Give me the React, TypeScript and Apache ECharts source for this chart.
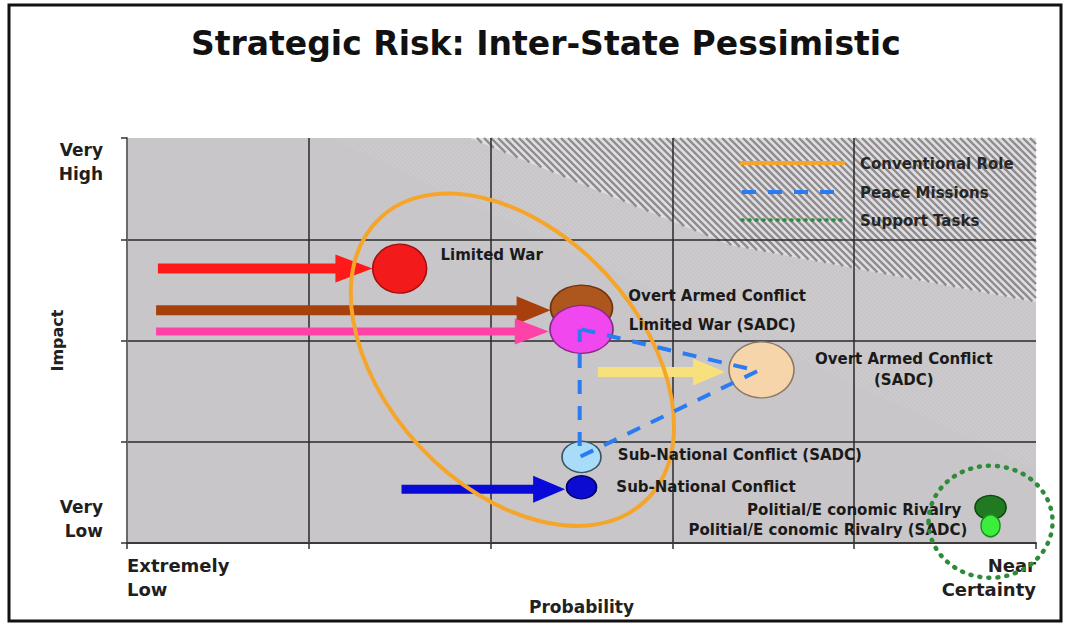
import React, { useEffect, useRef } from "react";
import * as echarts from "echarts";

// ---------- data ----------
const probabilityTicks = ["Extremely\nLow", "", "", "", "", "Near\nCertainty"];
const impactTicks = ["Very\nLow", "", "", "", "Very\nHigh"];

const riskNames = [
  "Limited War",
  "Overt Armed Conflict",
  "Limited War (SADC)",
  "Overt Armed Conflict (SADC)",
  "Sub-National Conflict (SADC)",
  "Sub-National Conflict",
  "Politial/E conomic Rivalry",
  "Politial/E conomic Rivalry (SADC)",
];
const riskLabels = [
  "Limited War",
  "Overt Armed Conflict",
  "Limited War (SADC)",
  "Overt Armed Conflict\n(SADC)",
  "Sub-National Conflict (SADC)",
  "Sub-National Conflict",
  "Politial/E conomic Rivalry",
  "Politial/E conomic Rivalry (SADC)",
];
const riskProbability = [1.5, 2.5, 2.5, 3.49, 2.5, 2.5, 4.75, 4.75];
const riskImpact = [2.71, 2.32, 2.11, 1.71, 0.85, 0.55, 0.35, 0.17];

const arrowFromProbability = [0.17, 0.16, 0.16, 2.59, 1.51];
const arrowToProbability = [1.35, 2.33, 2.32, 3.29, 2.41];
const arrowImpact = [2.71, 2.3, 2.09, 1.69, 0.53];

const peaceProbability = [2.5, 3.47, 2.49, 2.49];
const peaceImpact = [2.11, 1.7, 0.85, 2.11];

const conventionalCenter = [2.12, 1.81];
const supportCenter = [4.75, 0.21];

const legendNames = ["Conventional Role", "Peace Missions", "Support Tasks"];

// ---------- styles ----------
const FONT = "DejaVu Sans";
const bubbleSizes = [
  [54, 49],
  [62, 46],
  [63, 48],
  [65, 56],
  [39, 31],
  [30, 23],
  [31, 24],
  [19, 22],
];
const bubbleColors = ["#f21a1a", "#ad561e", "#f048ee", "#f7d5ab", "#a8dcf8", "#0b0bd2", "#1f7a22", "#3cee3c"];
const bubbleBorders = ["#a01010", "#6e3310", "#8a2a8a", "#8c7a68", "#3a5566", "#00006a", "#0f4a12", "#1f8a1f"];
const labelPos = ["right", "right", "right", "right", "right", "right", "left", "left"];
const labelDist = [13, 15, 15, 109, 16, 19, 13, 13];
const labelOffset = [
  [0, -14],
  [0, -12],
  [0, -4],
  [0, 0],
  [0, -2],
  [0, 0],
  [0, 2],
  [0, 4],
];
const labelAlign = ["left", "left", "left", "center", "left", "left", "right", "right"];

const arrowColors = ["#ff1a1a", "#a8400e", "#ff42a8", "#f8e07c", "#0a0ad8"];
const arrowShaft = [10, 10, 8, 10, 9];
const arrowHeadLen = [37, 34, 34, 32, 32];
const arrowHeadWid = [28, 28, 26, 27, 27];

const PLOT_L = 127;
const PLOT_R = 1036;
const PLOT_T = 138;
const PLOT_B = 543;

// lower boundary of a hatched zone (pixels), left to right, starting at the top edge
const denseEdge = [
  [470, PLOT_T],
  [730, 245],
  [PLOT_R, 302],
];
const faintEdge = [
  [330, PLOT_T],
  [PLOT_R, 470],
];

function hatchLines(edge: number[][], spacing: number, color: string, width: number, z: number) {
  const els: any[] = [];
  const x0min = edge[0][0];
  for (let x0 = x0min + spacing; x0 <= PLOT_R; x0 += spacing) {
    const xs = x0;
    const ys = PLOT_T;
    let xe = PLOT_R;
    for (let k = 0; k < edge.length - 1; k++) {
      const [ax, ay] = edge[k];
      const [bx, by] = edge[k + 1];
      const m = (by - ay) / (bx - ax);
      const xi = (ay - m * ax - PLOT_T + x0) / (1 - m);
      if (xi >= ax - 0.01 && xi <= bx + 0.01) {
        xe = Math.min(xi, PLOT_R);
        break;
      }
    }
    if (xe <= xs) continue;
    els.push({
      type: "line",
      silent: true,
      z,
      shape: { x1: xs, y1: ys, x2: xe, y2: ys + (xe - xs) },
      style: { stroke: color, lineWidth: width },
    });
  }
  return els;
}

export default function App() {
  const ref = useRef<HTMLDivElement>(null);

  useEffect(() => {
    if (!ref.current) return;
    const chart = echarts.init(ref.current, undefined, { renderer: "svg" });

    const bubbleData = riskNames.map((name, i) => ({
      name,
      value: [riskProbability[i], riskImpact[i]],
      symbolSize: bubbleSizes[i],
      itemStyle: { color: bubbleColors[i], borderColor: bubbleBorders[i], borderWidth: 1.5, opacity: 1 },
      label: {
        show: true,
        formatter: riskLabels[i],
        position: labelPos[i],
        distance: labelDist[i],
        offset: labelOffset[i],
        align: labelAlign[i],
        fontFamily: FONT,
        fontWeight: "bold",
        fontSize: 15,
        lineHeight: 21,
        color: "#1a1a1a",
        opacity: 1,
      },
    }));

    const legendY = [163, 192, 220];
    const legendGraphics: any[] = [
      {
        type: "line",
        z: 20,
        shape: { x1: 740, y1: legendY[0], x2: 845, y2: legendY[0] },
        style: { stroke: "#f5a52a", lineWidth: 4 },
      },
      {
        type: "line",
        z: 20,
        shape: { x1: 742, y1: legendY[1], x2: 845, y2: legendY[1] },
        style: { stroke: "#2a7cf0", lineWidth: 4, lineDash: [14, 12] },
      },
      {
        type: "line",
        z: 20,
        shape: { x1: 742, y1: legendY[2], x2: 845, y2: legendY[2] },
        style: { stroke: "#2e8b3a", lineWidth: 3.5, lineDash: [1, 6], lineCap: "round" },
      },
      ...legendNames.map((t, i) => ({
        type: "text",
        z: 20,
        x: 860,
        y: legendY[i] + 1,
        style: {
          text: t,
          fill: "#262626",
          font: `bold 15px "${FONT}"`,
          verticalAlign: "middle",
          align: "left",
        },
      })),
    ];

    const option: any = {
      animation: false,
      backgroundColor: "#ffffff",
      title: {
        text: "Strategic Risk: Inter-State Pessimistic",
        left: 186,
        top: 22,
        textStyle: { fontFamily: FONT, fontWeight: "bold", fontSize: 33, color: "#111111" },
      },
      grid: {
        left: PLOT_L,
        right: 1066 - PLOT_R,
        top: PLOT_T,
        bottom: 626 - PLOT_B,
        show: true,
        backgroundColor: "#c9c6c9",
        borderWidth: 0,
        outerBoundsMode: "none",
      },
      xAxis: {
        type: "value",
        min: 0,
        max: 5,
        interval: 1,
        z: 1,
        name: "Probability",
        nameLocation: "middle",
        nameGap: 55,
        nameMoveOverlap: false,
        nameTextStyle: { fontFamily: FONT, fontWeight: "bold", fontSize: 17, color: "#222" },
        axisLine: { show: true, lineStyle: { color: "#3a3a3a", width: 2 } },
        axisTick: { show: true, length: 6, lineStyle: { color: "#333", width: 1.5 } },
        splitLine: { show: true, showMaxLine: false, lineStyle: { color: "#2a2a2a", width: 1.5 } },
        axisLabel: {
          formatter: (v: number) => probabilityTicks[Math.round(v)] ?? "",
          fontFamily: FONT,
          fontWeight: "bold",
          fontSize: 18,
          lineHeight: 24,
          color: "#1f1f1f",
          margin: 10,
          alignMinLabel: "left",
          alignMaxLabel: "right",
          showMinLabel: true,
          showMaxLabel: true,
          hideOverlap: false,
        },
      },
      yAxis: {
        type: "value",
        min: 0,
        max: 4,
        interval: 1,
        z: 1,
        name: "Impact",
        nameLocation: "middle",
        nameGap: 62,
        nameMoveOverlap: false,
        nameTextStyle: { fontFamily: FONT, fontWeight: "bold", fontSize: 16, color: "#222" },
        axisLine: { show: true, lineStyle: { color: "#6a6a6a", width: 2 } },
        axisTick: { show: true, length: 6, lineStyle: { color: "#333", width: 1.5 } },
        splitLine: { show: true, showMaxLine: false, lineStyle: { color: "#2a2a2a", width: 1.5 } },
        axisLabel: {
          formatter: (v: number) => impactTicks[Math.round(v)] ?? "",
          fontFamily: FONT,
          fontWeight: "bold",
          fontSize: 17,
          lineHeight: 24,
          color: "#1f1f1f",
          margin: 24,
          verticalAlignMinLabel: "bottom",
          verticalAlignMaxLabel: "top",
          showMinLabel: true,
          showMaxLabel: true,
          hideOverlap: false,
        },
      },
      graphic: [
        ...hatchLines(faintEdge, 4, "rgba(235,235,235,0.16)", 1, 0.3),
        {
          type: "polygon",
          z: 0.4,
          silent: true,
          shape: { points: [...denseEdge.map((p) => [p[0], p[1]]), [PLOT_R, PLOT_T]] },
          style: { fill: "#e0dee0" },
        },
        ...hatchLines(denseEdge, 7, "#8e8c8e", 2.4, 0.5),
        ...legendGraphics,
        {
          type: "rect",
          z: 30,
          silent: true,
          shape: { x: 9, y: 5, width: 1052, height: 616 },
          style: { fill: "none", stroke: "#111", lineWidth: 3 },
        },
      ],
      series: [
        {
          type: "custom",
          name: "Risk Shift",
          silent: true,
          z: 2,
          data: arrowImpact.map((y, i) => [arrowFromProbability[i], y, arrowToProbability[i], y]),
          encode: { x: [0, 2], y: [1, 3] },
          renderItem: (params: any, api: any) => {
            const i = params.dataIndex;
            const p1 = api.coord([api.value(0), api.value(1)]);
            const p2 = api.coord([api.value(2), api.value(3)]);
            const dx = p2[0] - p1[0];
            const dy = p2[1] - p1[1];
            const len = Math.hypot(dx, dy) || 1;
            const ux = dx / len;
            const uy = dy / len;
            const nx = -uy;
            const ny = ux;
            const hl = arrowHeadLen[i];
            const hw = arrowHeadWid[i] / 2;
            const sw = arrowShaft[i] / 2;
            const bx = p2[0] - ux * hl;
            const by = p2[1] - uy * hl;
            const points = [
              [p1[0] + nx * sw, p1[1] + ny * sw],
              [bx + nx * sw, by + ny * sw],
              [bx + nx * hw, by + ny * hw],
              [p2[0], p2[1]],
              [bx - nx * hw, by - ny * hw],
              [bx - nx * sw, by - ny * sw],
              [p1[0] - nx * sw, p1[1] - ny * sw],
            ];
            return { type: "polygon", shape: { points }, style: { fill: arrowColors[i] } };
          },
        },
        {
          type: "custom",
          name: "Conventional Role",
          silent: true,
          z: 2,
          data: [conventionalCenter],
          renderItem: (params: any, api: any) => {
            const c = api.coord([api.value(0), api.value(1)]);
            return {
              type: "ellipse",
              x: c[0],
              y: c[1],
              rotation: (-47 * Math.PI) / 180,
              shape: { cx: 0, cy: 0, rx: 194, ry: 127 },
              style: { fill: "none", stroke: "#f5a52a", lineWidth: 4 },
            };
          },
        },
        {
          type: "scatter",
          name: "Risks",
          silent: true,
          z: 3,
          symbol: "circle",
          itemStyle: { opacity: 1 },
          data: bubbleData,
        },
        {
          type: "line",
          name: "Peace Missions",
          silent: true,
          z: 4,
          symbol: "none",
          data: peaceProbability.map((x, i) => [x, peaceImpact[i]]),
          lineStyle: { color: "#2a7cf0", width: 4, type: [14, 12] },
        },
        {
          type: "custom",
          name: "Support Tasks",
          silent: true,
          z: 4,
          data: [supportCenter],
          renderItem: (params: any, api: any) => {
            const c = api.coord([api.value(0), api.value(1)]);
            return {
              type: "ellipse",
              x: c[0],
              y: c[1],
              shape: { cx: 0, cy: 0, rx: 62, ry: 56 },
              style: { fill: "none", stroke: "#2e8b3a", lineWidth: 4.5, lineDash: [1, 8], lineCap: "round" },
            };
          },
        },
      ],
    };

    chart.setOption(option);
    return () => chart.dispose();
  }, []);

  return (
    <div
      ref={ref}
      style={{ position: "absolute", left: 0, top: 0, width: 1066, height: 626, background: "#fff" }}
    />
  );
}
